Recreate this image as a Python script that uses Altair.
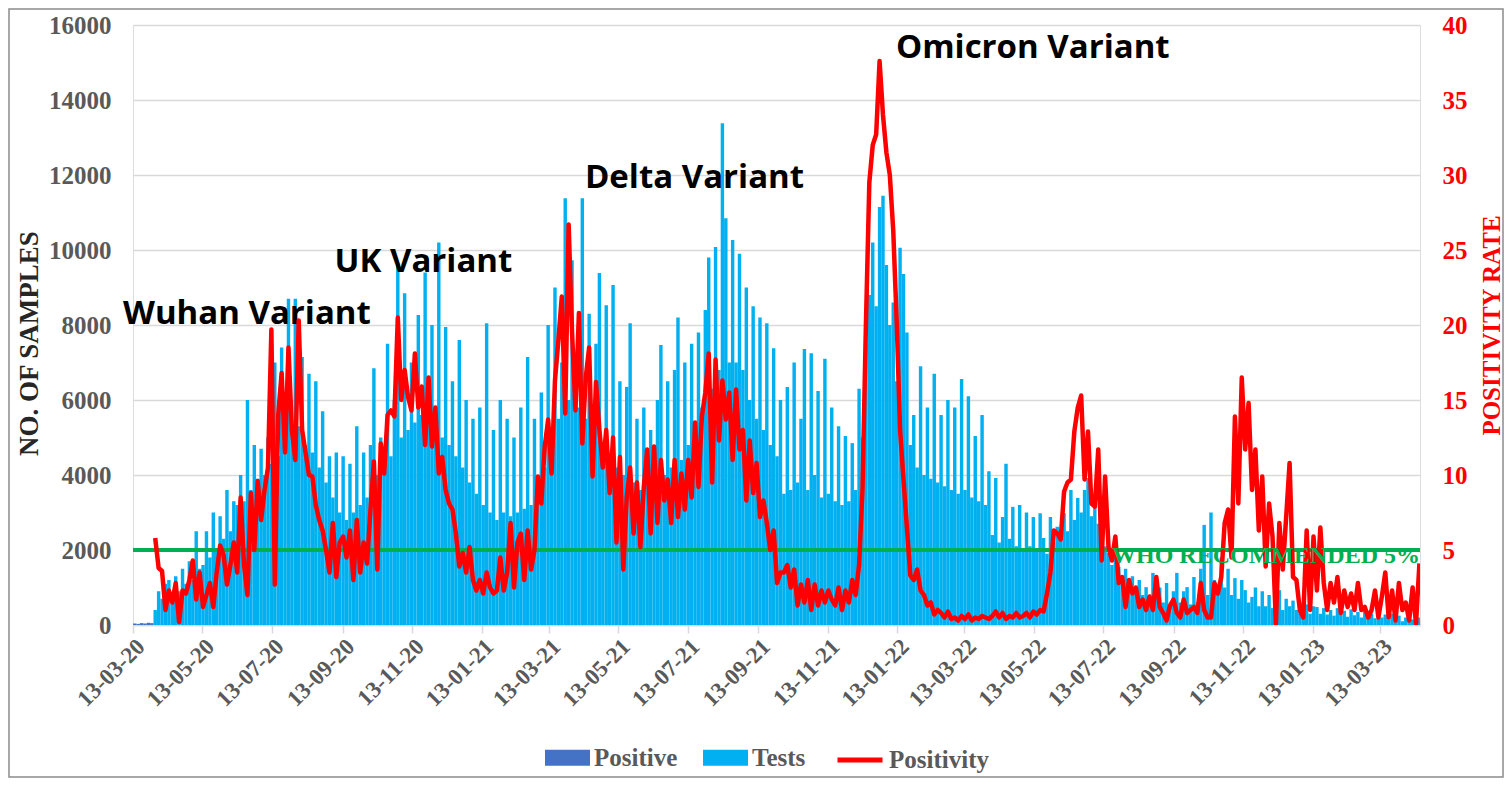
import altair as alt
import pandas as pd
import numpy as np

# ---------------- data (3-day steps from 13-03-2020) ----------------
start_date = "2020-03-13"
step_days = 3

tests_a = [
    0, 0, 0, 0, 0, 0, 400, 900, 700, 1100,
    1200, 800, 1300, 900, 1500, 1100, 1700, 1200, 2500, 1500,
    1600, 2500, 1800, 3000, 2000, 2900, 2300, 3600, 2500, 3300,
    3200, 4000, 3300, 6000, 3600, 4800, 3900, 4700, 4000, 5000,
    4300, 7000, 4500, 7400, 5000, 8700, 5200, 8700, 5300, 7150,
    4800, 6700, 4600, 6500, 4200, 5700, 3800, 4500, 3400, 4600,
    3000, 4500, 2800, 4300, 3000, 5300, 3200, 4600, 3400, 4800,
    6850, 4000, 5000, 4300, 7500, 4500, 6000, 9650, 5000, 8850,
    5200, 7000, 5400, 8270, 5600, 9400, 5800, 8000, 5500, 10200,
    5000, 7950, 4800, 6500, 4500, 7600, 4200, 6000, 3800, 5500,
]
tests_b = [
    3500, 5800, 3200, 8050, 3000, 5200, 2800, 6000, 3000, 5500,
    2900, 5000, 3000, 5800, 3100, 7150, 3200, 5500, 3500, 6200,
    4200, 8000, 5000, 9000, 5500, 7000, 11380, 6000, 9730, 6500,
    5800, 11380, 5500, 8300, 5000, 7500, 9390, 4800, 8530, 4500,
    9070, 4200, 6500, 4000, 6350, 8050, 3800, 5500, 3600, 5800,
    3800, 5200, 3900, 6000, 7470, 4000, 6500, 4200, 6800, 8200,
    4400, 7000, 4800, 7500, 5300, 7800, 5800, 8400, 9800, 6300,
    10080, 6800, 13380, 10850, 7000, 10270, 7000, 9900, 6800, 9000,
    6000, 8500, 5500, 8200, 5200, 8050, 4800, 7380, 4500, 6000,
    3500, 6350, 3600, 7000, 3800, 5500, 7360, 3600, 7250, 4000,
]
tests_c = [
    6240, 3400, 7100, 3500, 5800, 3300, 5300, 3200, 5040, 3300,
    4850, 3600, 6300, 5000, 7500, 8800, 10200, 8500, 11150, 11450,
    9600, 8000, 8600, 6500, 10060, 9360, 7800, 4800, 5600, 4200,
    6900, 4000, 5800, 3900, 6700, 3800, 5600, 3700, 6000, 3600,
    5800, 3500, 6560, 3600, 6100, 3400, 5040, 3300, 5600, 3200,
    4100, 2400, 3920, 2200, 2880, 4300, 2300, 3150, 2100, 3200,
    2000, 3000, 2100, 2880, 2000, 2980, 2320, 1900, 2880, 2200,
    2620, 2400, 2980, 2500, 3600, 2800, 3390, 3000, 3600, 3920,
    2900, 3250, 2700, 2350, 2100, 1920, 1600, 1800, 1550, 1200,
    1500, 900, 1300, 850, 1200, 800, 1010, 700, 1390, 750,
]
tests_d = [
    1000, 600, 1120, 550, 900, 1390, 600, 900, 1010, 550,
    1280, 600, 1500, 2670, 800, 3000, 1200, 900, 1800, 1000,
    1500, 800, 1250, 700, 1200, 930, 600, 750, 1000, 500,
    900, 500, 800, 450, 600, 930, 400, 700, 500, 650,
    400, 600, 350, 550, 300, 500, 480, 300, 450, 280,
    400, 250, 450, 300, 380, 220, 420, 260, 350, 200,
    380, 220, 300, 180, 350, 200, 280, 150, 300, 120,
    250, 100, 200, 80, 150, 60, 200,
]

rate_a = [
    None, None, None, None, None, None, 5.8, 3.8, 3.6, 1.0,
    2.3, 1.5, 2.8, 0.2, 2.3, 2.1, 3.0, 4.3, 1.7, 3.5,
    1.2, 2.0, 2.8, 1.2, 3.5, 5.3, 4.7, 2.7, 4.0, 5.5,
    3.5, 8.5, 4.0, 2.0, 8.8, 5.0, 9.6, 7.0, 9.0, 10.5,
    19.7, 2.7, 14.0, 16.8, 11.5, 18.5, 13.0, 11.0, 20.3, 13.0,
    11.5, 10.0, 9.9, 8.0, 7.0, 6.3, 5.0, 3.5, 6.8, 3.2,
    5.5, 5.9, 4.5, 6.3, 3.0, 7.0, 3.5, 5.5, 4.1, 7.7,
    10.9, 3.7, 12.1, 10.1, 14.0, 14.3, 13.9, 20.5, 15.0, 17.0,
    15.2, 14.3, 18.1, 14.5, 15.9, 12.0, 16.5, 11.9, 14.5, 10.1,
    11.2, 9.0, 8.1, 7.7, 6.1, 3.9, 4.8, 3.5, 5.2, 3.0,
]
rate_b = [
    2.3, 3.0, 2.1, 3.5, 2.5, 2.1, 2.3, 4.5, 2.3, 3.5,
    6.8, 2.5, 5.5, 6.1, 3.0, 6.3, 3.7, 5.0, 9.9, 8.1,
    11.9, 13.7, 10.1, 16.3, 19.0, 21.9, 14.1, 26.7, 19.5, 14.3,
    20.8, 12.1, 16.5, 18.5, 9.9, 16.2, 13.0, 10.5, 13.0, 8.8,
    12.5, 5.5, 11.2, 3.7, 8.5, 10.5, 6.1, 9.5, 5.2, 9.2,
    11.7, 6.1, 11.9, 6.8, 11.0, 8.3, 9.7, 6.8, 11.0, 7.2,
    10.1, 7.7, 11.0, 8.5, 13.5, 9.2, 13.9, 15.5, 18.1, 9.5,
    17.7, 12.3, 16.3, 13.7, 15.5, 11.0, 15.7, 11.7, 13.0, 8.3,
    12.3, 8.8, 10.8, 7.2, 8.3, 6.8, 5.0, 6.3, 2.8, 3.5,
    3.5, 4.0, 2.5, 3.7, 1.3, 2.7, 1.5, 3.0, 1.0, 2.7,
]
rate_c = [
    1.3, 2.3, 1.5, 2.3, 1.7, 1.3, 2.5, 1.0, 2.3, 1.5,
    3.0, 2.0, 4.0, 9.0, 20.0, 29.5, 32.0, 32.7, 37.6, 34.0,
    31.5, 30.0, 26.3, 20.3, 13.0, 9.7, 6.5, 3.3, 3.0, 3.7,
    2.3, 2.0, 1.3, 1.5, 0.7, 1.0, 0.8, 0.5, 0.9, 0.4,
    0.5, 0.3, 0.6, 0.4, 0.7, 0.3, 0.5, 0.4, 0.6, 0.5,
    0.4, 0.6, 0.9, 0.5, 0.8, 0.4, 0.6, 0.5, 0.8, 0.5,
    0.6, 0.8, 0.5, 0.9, 0.7, 1.0, 0.9, 2.1, 3.5, 6.3,
    6.1, 5.7, 8.9, 9.5, 9.7, 12.9, 14.5, 15.3, 9.7, 12.9,
    8.1, 7.9, 11.7, 4.3, 9.9, 5.2, 4.3, 5.9, 2.8, 3.2,
    1.2, 3.0, 2.1, 2.5, 1.2, 1.7, 1.0, 1.9, 1.0, 3.2,
]
rate_d = [
    1.2, 0.8, 0.3, 1.3, 1.7, 0.8, 0.5, 1.7, 0.8, 1.0,
    1.2, 0.8, 2.8, 1.0, 0.5, 0.5, 2.8, 2.1, 3.2, 6.8,
    7.7, 4.5, 13.9, 8.1, 16.5, 11.7, 14.8, 9.0, 11.7, 6.3,
    9.9, 3.9, 8.1, 5.9, 0.1, 6.8, 3.7, 7.2, 10.8, 3.2,
    3.0, 1.0, 0.5, 6.3, 1.0, 5.9, 2.3, 6.5, 2.8, 1.0,
    2.8, 1.5, 3.2, 0.8, 2.3, 1.2, 2.1, 1.0, 2.8, 1.0,
    1.2, 0.5, 1.0, 2.3, 0.5, 1.9, 3.5, 0.5, 2.3, 0.3,
    2.8, 1.0, 1.5, 0.3, 2.5, 0.1, 4.1,
]

# positives visible only at the very start (before the tests series begins)
positive_early = [40, 30, 50, 40, 60, 50]

series_names = ["Positive", "Tests", "Positivity"]
series_colors = ["#4472C4", "#00B0F0", "#FF0000"]

variant_labels = ["Wuhan Variant", "UK Variant", "Delta Variant", "Omicron Variant"]
variant_dates = ["2020-06-21", "2020-11-23", "2021-07-19", "2022-05-12"]
variant_levels = [8290, 9680, 11920, 15390]

who_label = "WHO RECOMMENDED 5%"
who_level = 5

# ---------------- table ----------------
tests = tests_a + tests_b + tests_c + tests_d
rate = rate_a + rate_b + rate_c + rate_d
n = len(tests)
d0 = pd.Timestamp(start_date)
dates = d0 + pd.to_timedelta(np.arange(n) * step_days, unit="D")
fmt = "%Y-%m-%dT%H:%M:%SZ"
df = pd.DataFrame({
    "start": dates.strftime(fmt),
    "end": (dates + pd.Timedelta(days=step_days)).strftime(fmt),
    "mid": (dates + pd.Timedelta(hours=36)).strftime(fmt),
    "tests": tests,
    "rate": rate,
    "positive": positive_early + [None] * (n - len(positive_early)),
})

ann = pd.DataFrame({
    "label": variant_labels,
    "date": [d + "T00:00:00Z" for d in variant_dates],
    "y": variant_levels,
})

# ---------------- scales / axes ----------------
W, H = 1287, 600
x_scale = alt.Scale(
    type="utc",
    domain=[alt.DateTime(year=2020, month=3, date=13, utc=True),
            alt.DateTime(year=2023, month=4, date=17, utc=True)],
)
tick_vals = []
for y in (2020, 2021, 2022, 2023):
    for m in (1, 3, 5, 7, 9, 11):
        if (y == 2020 and m < 3) or (y == 2023 and m > 3):
            continue
        tick_vals.append(alt.DateTime(year=y, month=m, date=13, utc=True))

serif = "Liberation Serif"
x_axis = alt.Axis(
    title=None, values=tick_vals, labelExpr="utcFormat(datum.value, '%d-%m-%y')",
    labelAngle=-45, labelFont=serif, labelFontSize=23, labelFontWeight="bold",
    labelColor="#595959", grid=False, domainColor="#D9D9D9", domainWidth=1.5,
    tickColor="#D9D9D9", tickSize=8, tickWidth=1.5, labelPadding=2, labelOverlap=False,
)
yl_scale = alt.Scale(domain=[0, 16000], nice=False)
yl_axis = alt.Axis(
    orient="left", title="NO. OF SAMPLES", values=list(range(0, 16001, 2000)),
    format="d",
    grid=True, gridColor="#D9D9D9", gridWidth=1.5, domain=False, ticks=False,
    labelFont=serif, labelFontSize=25, labelFontWeight="bold", labelColor="#595959",
    labelPadding=22, titleFont=serif, titleFontSize=27, titleFontWeight="bold",
    titleColor="#262626", titlePadding=5, titleY=318,
)
yr_scale = alt.Scale(domain=[0, 40], nice=False)
yr_axis = alt.Axis(
    orient="right", title="POSITIVITY RATE", values=list(range(0, 41, 5)),
    grid=False, domain=False, ticks=False,
    labelFont=serif, labelFontSize=25, labelFontWeight="bold", labelColor="#FF0000",
    labelPadding=22, titleFont=serif, titleFontSize=25, titleFontWeight="bold",
    titleColor="#FF0000", titlePadding=12, titleAngle=270, titleBaseline="top",
)

fill_scale = alt.Scale(domain=series_names[:2], range=series_colors[:2])
stroke_scale = alt.Scale(domain=series_names[2:], range=series_colors[2:])
leg_common = dict(
    orient="none", direction="horizontal", title=None,
    labelFont=serif, labelFontSize=25, labelFontWeight="bold", labelColor="#595959",
    labelOffset=4, columnPadding=25, symbolSize=2025, legendY=710,
)
fill_legend = alt.Legend(
    legendX=412, symbolType="M-1,-0.36L1,-0.36L1,0.36L-1,0.36Z",
    symbolStrokeWidth=0, **leg_common,
)
stroke_legend = alt.Legend(
    legendX=702, symbolType="stroke", symbolStrokeWidth=5, **leg_common,
)

X = alt.X("start:T", scale=x_scale, axis=x_axis)

frame = alt.Chart(pd.DataFrame({"k": [0]})).mark_rect(
    fillOpacity=0, stroke="#8C8C8C", strokeWidth=1.5, clip=False
).encode(
    x=alt.value(-124), x2=alt.value(W + 83), y=alt.value(-16), y2=alt.value(H + 152)
)

pos_bars = alt.Chart(df).transform_calculate(series="'Positive'").mark_rect(clip=True).encode(
    x=X, x2="end:T",
    y=alt.Y("positive:Q", scale=yl_scale, axis=yl_axis),
    y2=alt.datum(0),
    fill=alt.Fill("series:N", scale=fill_scale, legend=fill_legend),
)
test_bars = alt.Chart(df).transform_calculate(series="'Tests'").mark_rect(clip=True).encode(
    x=X, x2="end:T",
    y=alt.Y("tests:Q", scale=yl_scale, axis=yl_axis),
    y2=alt.datum(0),
    fill=alt.Fill("series:N", scale=fill_scale, legend=fill_legend),
)
annotations = alt.Chart(ann).mark_text(
    font="Open Sans", fontSize=33, fontWeight="bold", color="#000000", baseline="middle"
).encode(
    x=alt.X("date:T", scale=x_scale, axis=x_axis),
    y=alt.Y("y:Q", scale=yl_scale, axis=yl_axis),
    text="label:N",
)

who_df = pd.DataFrame({"v": [who_level], "label": [who_label],
                       "date": ["2023-04-17T00:00:00Z"]})
who_rule = alt.Chart(who_df).mark_rule(color="#00B050", strokeWidth=4).encode(
    y=alt.Y("v:Q", scale=yr_scale, axis=yr_axis),
)
line = alt.Chart(df).transform_calculate(series="'Positivity'").mark_line(
    strokeWidth=4.5, clip=True, strokeJoin="round"
).encode(
    x=alt.X("mid:T", scale=x_scale, axis=x_axis),
    y=alt.Y("rate:Q", scale=yr_scale, axis=yr_axis),
    stroke=alt.Stroke("series:N", scale=stroke_scale, legend=stroke_legend),
)
who_text = alt.Chart(who_df).mark_text(
    align="right", baseline="middle", dy=6, font=serif, fontSize=24,
    fontWeight="bold", color="#00B050"
).encode(
    x=alt.X("date:T", scale=x_scale, axis=x_axis),
    y=alt.Y("v:Q", scale=yr_scale, axis=yr_axis),
    text="label:N",
)

left = alt.layer(frame, pos_bars, test_bars, annotations)
right = alt.layer(who_rule, line, who_text)

chart = alt.layer(left, right).resolve_scale(y="independent").properties(
    width=W, height=H,
    padding={"left": 125, "top": 17, "right": 84, "bottom": 153},
    autosize=alt.AutoSizeParams(type="none"),
).configure_view(stroke=None).configure(background="#FFFFFF")

chart.save("out.html", embed_options={"renderer": "svg", "actions": False})
